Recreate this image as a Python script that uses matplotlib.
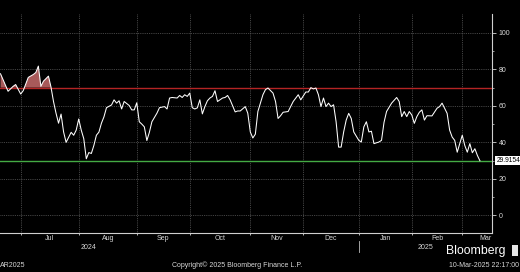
import numpy as np
import matplotlib
matplotlib.use("Agg")
import matplotlib.pyplot as plt
import matplotlib.transforms as mtransforms

plt.rcParams["font.family"] = ["Liberation Sans", "DejaVu Sans"]

# RSI, one point per trading session (0 = 1 Jul 2024)
sessions = [-8, -7, -5, -3, -2, 0, 1, 3, 5, 6, 7, 8, 9, 11, 12, 13, 14, 15, 16, 17, 18,
            20, 21, 22, 23, 24, 25, 26, 27, 28, 29, 30, 31, 32, 33, 34, 36, 37, 38, 39, 40, 41,
            43, 44, 45, 46, 47, 48, 49, 50, 51, 52, 54, 55, 57, 58, 59, 60, 62, 63, 64, 65,
            66, 67, 68, 69, 70, 71, 72, 73, 74, 75, 76, 77, 78, 80, 81, 82, 83, 85, 86, 87, 89,
            90, 91, 92, 93, 94, 96, 97, 98, 100, 101, 102, 103, 104, 106, 107, 108, 110, 111,
            112, 113, 114, 115, 116, 117, 118, 119, 120, 121, 122, 123, 124, 125, 126, 127,
            128, 129, 130, 131, 132, 134, 135, 136, 137,
            138, 139, 140, 142, 143, 144, 145, 147, 149, 150, 151, 152, 153, 154, 155, 156,
            157, 158, 159, 160, 161, 163, 165, 166, 167, 169, 170, 171, 172, 173, 175, 176,
            177, 178, 179, 180, 181, 182]
rsi = [77.6, 74.4, 68.0, 70.7, 71.7, 66.5, 68.3, 75.6, 77.2, 78.3, 81.8, 70.7, 73.5, 76.3,
       70.4, 62.4, 56.0, 50.5, 55.5, 45.7, 40.0,
       45.5, 43.9, 46.7, 52.8, 46.7, 42.0, 31.0, 34.4, 33.9, 38.3, 43.9, 45.6, 50.5, 54.0,
       59.0, 60.5, 63.3, 61.5, 62.8, 58.3, 62.4,
       60.2, 57.8, 57.8, 61.7, 51.3, 50.0, 48.5, 41.0, 45.5, 51.3, 56.0, 59.0, 59.6, 58.3,
       64.3, 64.6, 64.3, 65.7, 64.6, 66.1,
       65.2, 67.0, 59.0, 58.3, 58.9, 63.3, 55.6, 59.6, 62.8, 64.3, 65.2, 68.3, 62.4, 64.3,
       64.6, 65.7, 63.3, 56.7, 57.2, 57.2, 59.6,
       56.0, 45.7, 42.4, 44.5, 56.9, 66.1, 68.9, 69.8, 67.0, 62.4, 53.1, 54.6, 56.5, 56.9,
       59.6, 62.4, 66.1, 63.3,
       65.4, 67.6, 67.6, 70.0, 69.3, 69.8, 66.1, 59.6, 64.3, 59.6, 61.5, 59.6, 60.6, 51.3,
       37.4, 37.4,
       45.7, 52.2, 55.9, 53.1, 45.7, 41.1, 40.2, 48.5, 51.3,
       45.7, 46.1, 39.3, 40.2, 41.1, 51.0, 56.9, 61.5, 64.6, 62.4, 54.1, 56.9, 54.1, 56.9,
       55.0, 50.4,
       54.1, 56.5, 57.8, 52.2, 54.6, 54.5, 58.7, 59.6, 61.5, 55.9, 46.7, 42.9, 41.1, 34.6,
       43.9, 38.3,
       34.6, 39.3, 34.3, 36.5, 32.8, 29.9154]

overbought = 70
oversold = 30
last_label = "29.9154"

# month boundaries in sessions, labels in between
month_starts = [0, 23, 46, 67, 91, 112, 134, 155, 175]
month_names = ["Jul", "Aug", "Sep", "Oct", "Nov", "Dec", "Jan", "Feb", "Mar"]
year_names = ["2024", "2025"]
chart_start = -80   # the full chart starts left of this crop
x_lo, x_hi = -8.2, 186.9

x = np.array(sessions)
y = np.array(rsi)

fig = plt.figure(figsize=(5.2, 2.72), dpi=100, facecolor="black")
ax = fig.add_axes([0.0, 0.1434, 0.9467, 0.8033])
ax.set_facecolor("black")

ax.fill_between(x, y, overbought, where=y > overbought, interpolate=True,
                color="#a85a5a", lw=0, zorder=2)
ax.fill_between(x, y, oversold, where=y < oversold, interpolate=True,
                color="#3f8a3f", lw=0, zorder=2)
ax.axhline(overbought, color="#b42424", lw=1.0, zorder=3)
ax.axhline(oversold, color="#44aa44", lw=1.0, zorder=3)
ax.plot(x, y, color="white", lw=0.75, zorder=4)

ax.set_xlim(x_lo, x_hi)
ax.set_ylim(-9.7, 110.1)

# y axis on the right
ax.yaxis.tick_right()
ax.set_yticks([0, 20, 40, 60, 80, 100])
ax.set_yticks([10, 30, 50, 70, 90], minor=True)
ax.tick_params(axis="y", which="major", colors="#d8d8d8", labelsize=5, length=3,
               width=0.6, pad=1.5)
ax.tick_params(axis="y", which="minor", colors="#d8d8d8", length=1.6, width=0.5)

# x axis: grid at month starts, month names centered
ax.set_xticks(month_starts)
ax.set_xticklabels([])
mids = []
for i in range(len(month_starts)):
    nxt = month_starts[i + 1] if i + 1 < len(month_starts) else month_starts[i] + 21
    mids.append(min((month_starts[i] + nxt) / 2, x_hi - 2.5))
ax.set_xticks(mids, minor=True)
ax.set_xticklabels(month_names, minor=True)
ax.tick_params(axis="x", which="major", colors="#d8d8d8", length=1.2, width=0.6)
ax.tick_params(axis="x", which="minor", colors="#d8d8d8", length=0, labelsize=5, pad=1.5)

ax.grid(True, which="major", color="#5a5a5a", lw=0.6, linestyle=(0, (1, 1.2)))

for s in ["top", "left"]:
    ax.spines[s].set_visible(False)
for s in ["bottom", "right"]:
    ax.spines[s].set_color("#cfcfcf")
    ax.spines[s].set_linewidth(0.8)

# year labels and separator
trans = mtransforms.blended_transform_factory(ax.transData, ax.transAxes)
jan = month_starts[6]
ax.text((chart_start + jan) / 2, -0.065, year_names[0], transform=trans, ha="center",
        va="center", color="#d8d8d8", fontsize=5)
ax.text((jan + x_hi) / 2, -0.065, year_names[1], transform=trans, ha="center",
        va="center", color="#d8d8d8", fontsize=5)
ax.plot([jan, jan], [-0.035, -0.085], transform=trans, color="#bcbcbc", lw=0.6,
        clip_on=False)

# last value tag
ytrans = mtransforms.blended_transform_factory(ax.transAxes, ax.transData)
ax.text(1.008, y[-1], last_label, transform=ytrans, ha="left", va="center",
        fontsize=4.8, color="black",
        bbox=dict(boxstyle="square,pad=0.15", fc="white", ec="white", lw=0))

# footer
fig.text(0.0, 0.012, "AR2025", color="#d8d8d8", fontsize=5, ha="left", va="bottom")
fig.text(0.456, 0.012, "Copyright\u00a9 2025 Bloomberg Finance L.P.", color="#d8d8d8",
         fontsize=5, ha="center", va="bottom")
fig.text(0.999, 0.012, "10-Mar-2025 22:17:00", color="#d8d8d8", fontsize=5,
         ha="right", va="bottom")
fig.text(0.972, 0.056, "Bloomberg", color="white", fontsize=8.8, ha="right",
         va="bottom")
fig.text(0.99, 0.066, " ", color="black", fontsize=5, ha="center", va="bottom",
         bbox=dict(boxstyle="square,pad=0.25", fc="#e6e6e6", ec="none"))

fig.savefig("out.png", dpi=100, facecolor="black")
